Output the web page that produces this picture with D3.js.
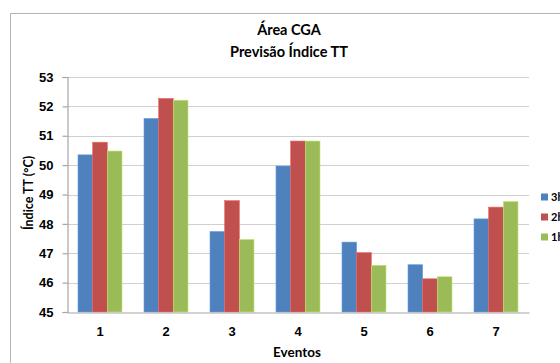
<!DOCTYPE html>
<html>
<head>
<meta charset="utf-8">
<script src="https://cdn.jsdelivr.net/npm/d3@7"></script>
<style>
  html, body { margin: 0; padding: 0; background: #fff; }
  svg { display: block; font-family: Lato, "Open Sans", sans-serif; }
</style>
</head>
<body>
<svg id="chart" width="560" height="363"></svg>
<script>
// Forecast of the TT index per event, for three lead times
const eventos = ["1", "2", "3", "4", "5", "6", "7"];
const series = ["3h", "2h", "1h"];
const valores3h = [50.35, 51.59, 47.74, 49.97, 47.38, 46.61, 48.17];
const valores2h = [50.78, 52.27, 48.79, 50.82, 47.02, 46.13, 48.57];
const valores1h = [50.48, 52.21, 47.47, 50.82, 46.59, 46.20, 48.76];
const yTicks = [45, 46, 47, 48, 49, 50, 51, 52, 53];
const cores = ["#4f81bd", "#c0504d", "#9bbb59"];
const titulo = ["Área CGA", "Previsão Índice TT"];

const dados = eventos.map((e, i) => ({
  evento: e,
  valores: [valores3h[i], valores2h[i], valores1h[i]]
}));

const svg = d3.select("#chart");

// outer chart frame (top and left edges visible)
svg.append("path")
  .attr("d", "M10.5,363 V13.5 H560")
  .attr("fill", "none")
  .attr("stroke", "#b3b3b3")
  .attr("stroke-width", 1);

const plot = { left: 67, right: 529, top: 77, bottom: 312 };

const x = d3.scaleBand()
  .domain(eventos)
  .range([plot.left, plot.right])
  .paddingInner(1 / 3)
  .paddingOuter(1 / 6);

const xs = d3.scaleBand()
  .domain(series)
  .range([0, x.bandwidth()]);

const y = d3.scaleLinear()
  .domain([45, 53])
  .range([plot.bottom, plot.top]);

// horizontal gridlines
svg.append("g")
  .selectAll("line")
  .data(yTicks.filter(t => t > 45))
  .join("line")
  .attr("x1", plot.left)
  .attr("x2", plot.right)
  .attr("y1", d => Math.round(y(d)) + 0.5)
  .attr("y2", d => Math.round(y(d)) + 0.5)
  .attr("stroke", "#d0d0d0")
  .attr("stroke-width", 1.2);

// bars
const grupos = svg.append("g")
  .selectAll("g")
  .data(dados)
  .join("g")
  .attr("transform", d => `translate(${x(d.evento)},0)`);

grupos.selectAll("rect")
  .data(d => d.valores.map((v, k) => ({ serie: series[k], v, k })))
  .join("rect")
  .attr("x", d => xs(d.serie))
  .attr("width", xs.bandwidth())
  .attr("y", d => y(d.v))
  .attr("height", d => y(45) - y(d.v))
  .attr("fill", d => cores[d.k])
  .attr("stroke", d => d3.color(cores[d.k]).brighter(0.6))
  .attr("stroke-width", 0.6);

// y axis
const yAxis = svg.append("g")
  .attr("transform", `translate(${plot.left + 0.5},0)`)
  .call(d3.axisLeft(y).tickValues(yTicks).tickSize(5).tickFormat(d3.format("d")));
yAxis.select(".domain").attr("stroke", "#a6a6a6").attr("stroke-width", 1.2);
yAxis.selectAll(".tick line").attr("stroke", "#a6a6a6").attr("stroke-width", 1.2);
yAxis.selectAll(".tick text")
  .attr("x", -14)
  .attr("fill", "#000")
  .style("font-size", "13px")
  .style("font-weight", "bold");

// x axis
const xAxis = svg.append("g")
  .attr("transform", `translate(0,${plot.bottom + 0.5})`)
  .call(d3.axisBottom(x).tickSize(0).tickSizeOuter(0));
xAxis.select(".domain").attr("stroke", "#a6a6a6").attr("stroke-width", 1.2);
xAxis.selectAll(".tick text")
  .attr("y", 14)
  .attr("fill", "#000")
  .style("font-size", "13px")
  .style("font-weight", "bold");

// titles
svg.append("g")
  .selectAll("text")
  .data(titulo)
  .join("text")
  .attr("x", 289)
  .attr("y", (d, i) => 35 + i * 22)
  .attr("text-anchor", "middle")
  .style("font-size", "14.5px")
  .style("font-weight", "bold")
  .text(d => d);

svg.append("text")
  .attr("x", 297)
  .attr("y", 357)
  .attr("text-anchor", "middle")
  .style("font-size", "13.5px")
  .style("font-weight", "bold")
  .text("Eventos");

svg.append("text")
  .attr("transform", "translate(33,193) rotate(-90)")
  .attr("text-anchor", "middle")
  .style("font-size", "12.5px")
  .style("font-weight", "bold")
  .text("Índice TT (°C)");

// legend (runs off the right edge of the frame)
const legenda = svg.append("g")
  .selectAll("g")
  .data(series)
  .join("g")
  .attr("transform", (d, i) => `translate(541,${197 + i * 20})`);
legenda.append("rect")
  .attr("x", 0)
  .attr("y", -3.5)
  .attr("width", 7)
  .attr("height", 7)
  .attr("fill", (d, i) => cores[i]);
legenda.append("text")
  .attr("x", 10)
  .attr("y", 4)
  .style("font-size", "11px")
  .style("font-weight", "bold")
  .text(d => d);
</script>
</body>
</html>
